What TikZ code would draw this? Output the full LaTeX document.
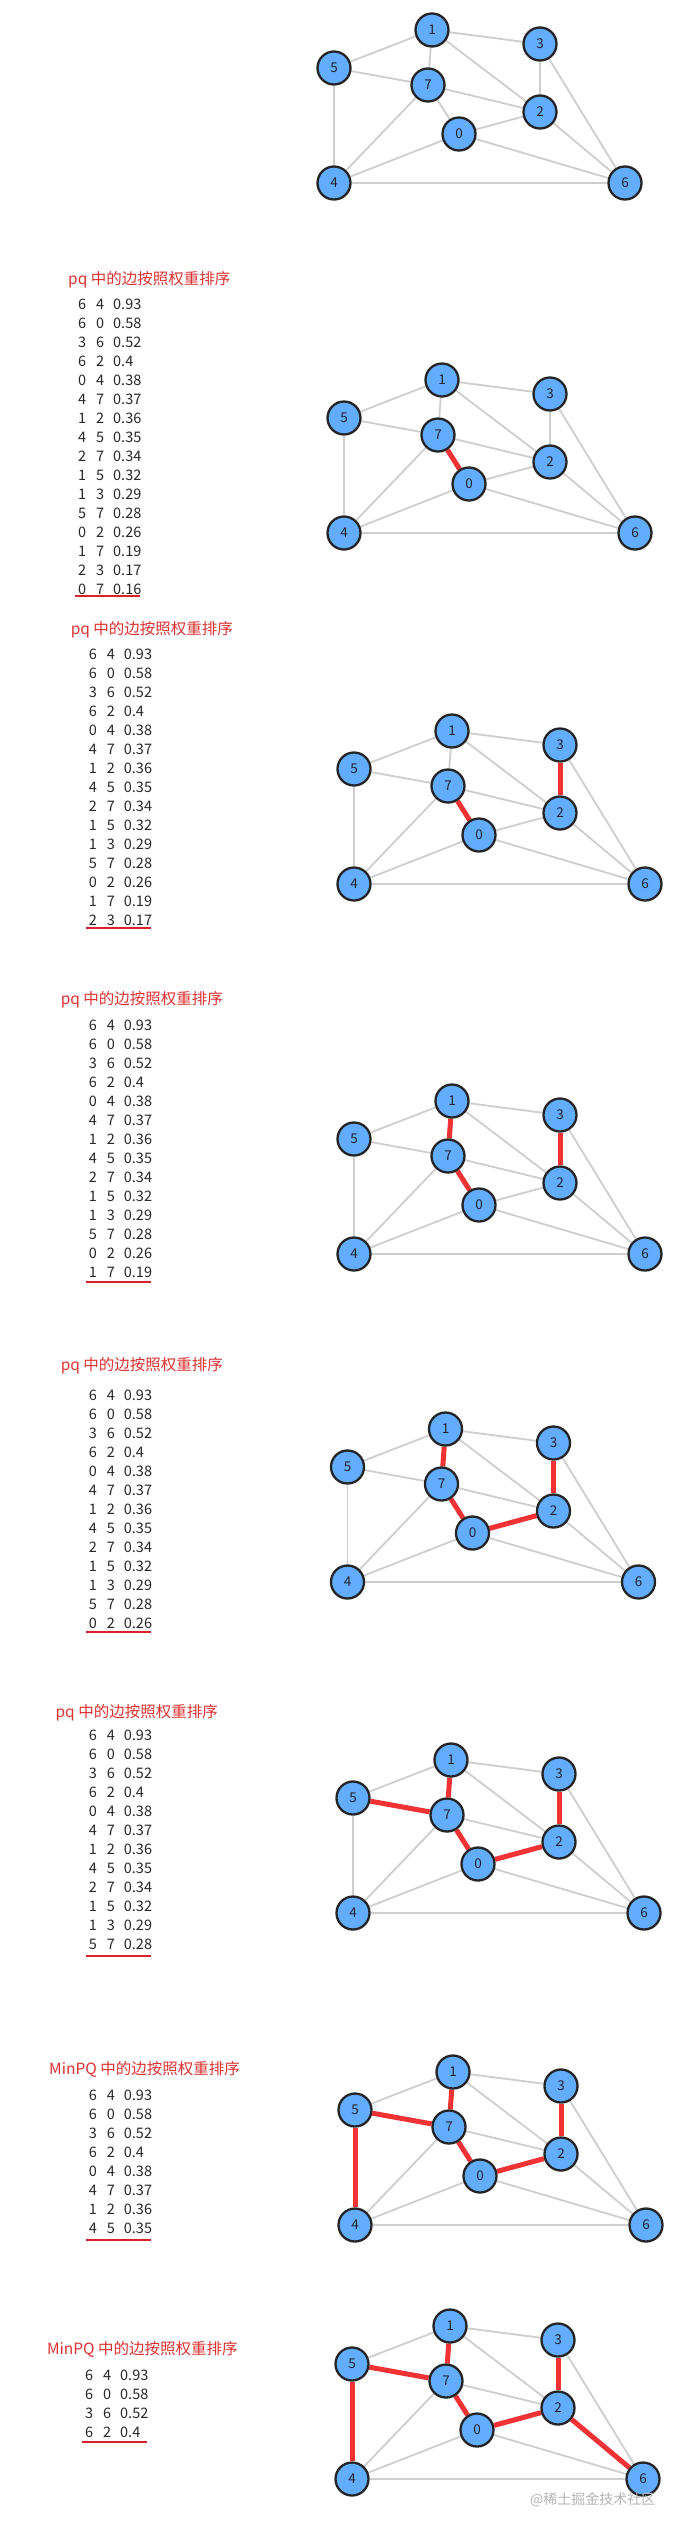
\documentclass[tikz,border=0pt]{standalone}
\usepackage{fontspec}
\setmainfont{Noto Sans CJK SC}
\pgfdeclarelayer{bgfill}
\pgfdeclarelayer{edgelayer}
\pgfsetlayers{bgfill,edgelayer,main}
\definecolor{nodefill}{RGB}{98,173,255}
\definecolor{nodeline}{RGB}{36,36,36}
\definecolor{edgegray}{RGB}{206,206,206}
\definecolor{mstred}{RGB}{240,50,52}
\definecolor{titlered}{RGB}{222,50,50}
\definecolor{ulred}{RGB}{212,36,42}
\definecolor{listgray}{RGB}{40,40,40}
\definecolor{wmgray}{RGB}{180,180,180}
\tikzset{
  vtx/.style={circle, draw=nodeline, line width=2.3pt, fill=nodefill, minimum size=33pt, inner sep=0pt, font=\fontsize{13.5}{13.5}\selectfont, text=nodeline},
  gedge/.style={draw=edgegray, line width=1.8pt},
  redge/.style={draw=mstred, line width=5pt},
  ttl/.style={anchor=base west, inner sep=0pt, text=titlered, font=\fontsize{15.5}{15.5}\selectfont},
  rowtxt/.style={anchor=base west, inner sep=0pt, text=listgray, font=\fontsize{14.5}{14.5}\selectfont},
  uline/.style={draw=ulred, line width=2.2pt},
}
% #1 prefix, #2 dx, #3 dy
\newcommand{\drawgraph}[3]{%
  \begin{scope}[shift={(#2,#3)}]
    \foreach \n/\x/\y in {1/432/30, 3/540/44, 5/334/68, 7/428/85, 2/540/112, 0/459/134, 4/334/183, 6/625/183}
      \node[vtx] (#1\n) at (\x,\y) {\n};
  \end{scope}
  \begin{pgfonlayer}{edgelayer}
    \foreach \a/\b in {1/5, 1/3, 1/7, 1/2, 5/7, 5/4, 7/2, 7/0, 7/4, 0/4, 0/2, 0/6, 2/3, 2/6, 3/6, 4/6}
      \draw[gedge] (#1\a) -- (#1\b);
  \end{pgfonlayer}}
% #1 prefix, #2 red edge list
\newcommand{\drawred}[2]{%
  \begin{pgfonlayer}{edgelayer}
    \foreach \a/\b in {#2}
      \draw[redge] (#1\a) -- (#1\b);
  \end{pgfonlayer}}
% #1 prefix, #2 x0, #3 first row centre y, #4 rows, #5 underline y
\newcommand{\drawlist}[5]{%
  \foreach \a/\b/\w [count=\i] in {6/4/0.93, 6/0/0.58, 3/6/0.52, 6/2/0.4, 0/4/0.38, 4/7/0.37, 1/2/0.36, 4/5/0.35, 2/7/0.34, 1/5/0.32, 1/3/0.29, 5/7/0.28, 0/2/0.26, 1/7/0.19, 2/3/0.17, 0/7/0.16}{%
    \ifnum\i>#4\relax\else
      \node[rowtxt] (#1-\i-a) at ({#2},{#3+5.3+19*(\i-1)}) {\a};
      \node[rowtxt] (#1-\i-b) at ({#2+18},{#3+5.3+19*(\i-1)}) {\b};
      \node[rowtxt] (#1-\i-c) at ({#2+35},{#3+5.3+19*(\i-1)}) {\w};
    \fi}
  \draw[uline] ({#2-3},#5) -- ({#2+62},#5);}
\begin{document}
\begin{tikzpicture}[x=1pt,y=-1pt]
\useasboundingbox (0,0) rectangle (679,2530);
\begin{pgfonlayer}{bgfill}
\fill[white] (0,0) rectangle (679,2530);
\end{pgfonlayer}

% panel 1
\drawgraph{a}{0}{0}

% panel 2
\node[ttl] (tb) at (68,284) {pq 中的边按照权重排序};
\drawlist{b}{78}{304}{16}{596}
\drawgraph{b}{10}{350}
\drawred{b}{0/7}

% panel 3
\node[ttl] (tc) at (70.6,634) {pq 中的边按照权重排序};
\drawlist{c}{88.7}{654}{15}{928}
\drawgraph{c}{20}{701}
\drawred{c}{0/7, 2/3}

% panel 4
\node[ttl] (td) at (60.6,1004) {pq 中的边按照权重排序};
\drawlist{d}{88.7}{1025}{14}{1282}
\drawgraph{d}{20}{1071}
\drawred{d}{0/7, 2/3, 1/7}

% panel 5
\node[ttl] (te) at (60.6,1370) {pq 中的边按照权重排序};
\drawlist{e}{88.7}{1395}{13}{1632}
\drawgraph{e}{13.5}{1399}
\drawred{e}{0/7, 2/3, 1/7, 0/2}

% panel 6
\node[ttl] (tf) at (55.4,1717) {pq 中的边按照权重排序};
\drawlist{f}{88.7}{1735}{12}{1956}
\drawgraph{f}{19}{1730}
\drawred{f}{0/7, 2/3, 1/7, 0/2, 5/7}

% panel 7
\node[ttl] (tg) at (49,2074) {MinPQ 中的边按照权重排序};
\drawlist{g}{88.7}{2095}{8}{2240}
\drawgraph{g}{21}{2042}
\drawred{g}{0/7, 2/3, 1/7, 0/2, 5/7, 4/5}

% panel 8
\node[ttl] (th) at (46.8,2354) {MinPQ 中的边按照权重排序};
\drawlist{h}{85}{2375}{4}{2442}
\drawgraph{h}{18}{2296}
\drawred{h}{0/7, 2/3, 1/7, 0/2, 5/7, 4/5, 2/6}

\node[anchor=west, inner sep=0pt, text=wmgray, font=\fontsize{14}{14}\selectfont] (wm) at (530,2500) {@稀土掘金技术社区};
\end{tikzpicture}
\end{document}
